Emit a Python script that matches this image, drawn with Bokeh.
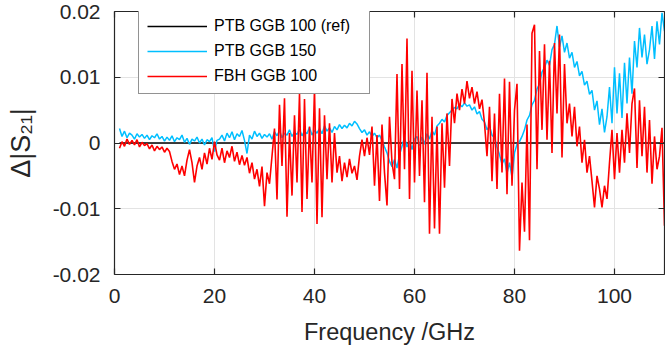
import numpy as np
from bokeh.plotting import figure
from bokeh.models import Range1d, LinearAxis, FixedTicker, Legend, LegendItem, ColumnDataSource
from bokeh.embed import file_html
from bokeh.resources import INLINE

# ---------------- data ----------------
# measurement frequency grid /GHz (0.5 GHz sampling)
freq_ghz = np.arange(1.0, 110.0 + 0.25, 0.5)

# Delta |S21| values, in units of 1e-3
ptb150_milli = [
    2.2, 1.0, 1.8, 0.8, 1.5, 1.2, 0.6, 1.4, 0.9, 1.3,      # 1 - 5.5
    0.7, 1.2, 0.5, 1.1, 0.8, 1.4, 0.6, 1.0, 0.3, 0.9,      # 6 - 10.5
    0.4, 1.1, 0.2, 0.8, 0.5, 1.2, 0.1, 0.7, -0.2, 0.6,     # 11 - 15.5
    0.3, 0.9, 0.0, 0.6, -0.3, 0.5, 0.2, 0.8, -1.3, 0.4,    # 16 - 20.5
    0.6, 1.2, 0.3, 1.5, 0.8, 1.7, 0.5, 1.4, 1.0, 1.9,      # 21 - 25.5
    0.4, -1.6, 1.2, 0.6, 1.8, 1.0, 1.5, 0.7, 1.3, 0.9,     # 26 - 30.5
    1.4, 0.6, 1.7, 1.1, 1.9, 0.8, 1.5, 1.2, 2.0, 1.0,      # 31 - 35.5
    1.6, 1.3, 2.1, 1.1, 1.8, 1.4, 2.4, 1.2, 1.9, 1.5,      # 36 - 40.5
    2.2, 1.4, 2.6, 1.8, 2.3, 1.6, 2.5, 2.0, 2.8, 2.2,      # 41 - 45.5
    2.7, 2.3, 3.0, 2.6, 3.3, 2.9, 2.2, 1.6, 2.0, 1.2,      # 46 - 50.5
    1.7, 1.0, 1.5, 0.8, 1.2, 0.4, -0.6, -1.5, -2.8, -3.6,  # 51 - 55.5
    -2.5, -3.8, -1.8, -0.5, 0.8, -0.6, 0.3, -1.0, 0.6, 1.0,  # 56 - 60.5
    -0.4, 0.9, -0.2, 1.4, 0.6, 1.9, 1.2, 2.6, 3.0, 3.6,    # 61 - 65.5
    3.2, 4.2, 4.6, 5.0, 5.4, 5.2, 5.9, 5.5, 6.1, 5.6,      # 66 - 70.5
    5.8, 5.0, 5.5, 4.4, 4.8, 3.6, 3.2, 2.0, 2.6, 1.2,      # 71 - 75.5
    0.8, -0.6, -1.8, -3.2, -2.4, -4.6, -3.0, -5.2, -1.5, -0.2,  # 76 - 80.5
    0.2, 1.0, 2.0, 3.5, 4.2, 5.8, 6.5, 8.2, 9.0, 10.8,     # 81 - 85.5
    11.5, 12.6, 11.8, 14.2, 15.0, 17.8, 14.6, 16.3, 13.8, 15.2,  # 86 - 90.5
    12.9, 13.8, 11.5, 12.4, 10.2, 10.9, 8.8, 9.4, 7.4, 8.0,  # 91 - 95.5
    5.0, 6.4, 2.8, 5.2, 1.6, 4.0, 8.5, 3.0, 11.5, 4.5,     # 96 - 100.5
    10.6, 3.8, 12.2, 6.0, 13.0, 7.5, 15.5, 11.5, 17.5, 13.0,  # 101 - 105.5
    16.5, 12.0, 14.2, 17.8, 12.8, 18.5, 15.0, 19.8, 17.0,  # 106 - 110
]

fbh100_milli = [
    -0.8, 0.2, -0.5, 0.6, -0.2, 0.4, -0.3, 0.5, -0.6, 0.1,     # 1 - 5.5
    -0.4, -0.1, -0.9, -0.3, -1.2, -0.5, -1.0, -0.6, -1.4, -0.8,  # 6 - 10.5
    -1.3, -2.8, -4.0, -3.2, -4.8, -3.5, -5.0, -2.6, -1.0, -3.0,  # 11 - 15.5
    -6.0, -3.5, -2.2, -4.0, -1.5, -3.2, -0.8, -2.5, 0.2, -1.8,   # 16 - 20.5
    -2.6, -0.8, -3.0, -1.2, -2.2, -0.5, -2.8, -1.4, -3.3, -1.9,  # 21 - 25.5
    -3.4, -2.2, -4.6, -3.0, -5.5, -4.0, -6.6, -3.6, -9.6, -4.5,  # 26 - 30.5
    -6.2, -2.0, 2.2, -8.6, 5.8, -3.5, 6.8, -11.2, 1.5, -8.0,     # 31 - 35.5
    4.2, -6.0, 7.5, -10.5, 6.7, -8.5, 2.5, -6.0, 8.3, -12.3,     # 36 - 40.5
    5.3, -11.3, 4.2, -5.5, 3.0, -6.0, 1.5, -4.5, -2.0, -5.8,     # 41 - 45.5
    -3.0, -5.2, -2.4, -4.6, -3.5, -5.6, -2.0, 0.5, -2.0, 0.8,    # 46 - 50.5
    -1.8, 2.5, -6.5, 1.2, -8.8, 2.8, -4.5, -9.5, 4.0, -3.0,      # 51 - 55.5
    -5.5, 10.5, -7.0, 12.0, -4.0, 15.9, -8.5, 11.0, -6.0, 8.0,   # 56 - 60.5
    -5.0, 6.5, -9.0, 10.7, -13.8, 4.0, -13.0, 2.5, -13.8, 3.0,   # 61 - 65.5
    -6.8, 4.5, -3.5, 6.7, 3.0, 7.5, 5.0, 8.2, 6.0, 9.4,          # 66 - 70.5
    6.8, 8.5, 6.0, 7.8, 5.2, 6.6, 3.0, -2.0, 5.5, -5.8,          # 71 - 75.5
    4.5, -7.0, 7.5, -4.5, 9.8, -7.8, 9.3, -6.5, 5.0, 9.0,        # 76 - 80.5
    -16.4, -6.0, -13.5, 2.8, -14.8, 16.7, 18.0, -4.0, 14.0, 2.0,  # 81 - 85.5
    15.0, 0.5, 12.5, -1.5, 15.2, 4.5, 16.5, -2.2, 12.0, 3.0,     # 86 - 90.5
    6.0, 1.0, 5.5, -0.5, 2.5, -3.0, 0.5, -4.5, -2.0, -5.8,       # 91 - 95.5
    -9.8, -5.0, -7.0, -9.8, -6.5, -8.5, -3.0, 2.0, -5.5, 1.5,    # 96 - 100.5
    -4.5, 2.0, -3.0, 4.5, -1.5, 6.0, 8.3, -3.8, 6.5, -2.0,       # 101 - 105.5
    5.5, -4.5, 3.5, -6.2, 1.0, -4.0, -2.0, 2.3, -12.6,           # 106 - 110
]

ref_milli = [0.0] * len(freq_ghz)

series_labels = ["PTB GGB 100 (ref)", "PTB GGB 150", "FBH GGB 100"]
series_colors = ["#000000", "#00BFFF", "#FF0000"]

x_ticks = [0, 20, 40, 60, 80, 100]
x_tick_labels = ["0", "20", "40", "60", "80", "100"]
y_ticks = [-0.02, -0.01, 0.0, 0.01, 0.02]
y_tick_labels = ["-0.02", "-0.01", "0", "0.01", "0.02"]

x_label = "Frequency /GHz"
y_label = "Δ|S₂₁|"

# ---------------- figure ----------------
FONT = "Liberation Sans"
AX = "#262626"

src = ColumnDataSource(dict(
    f=freq_ghz,
    ref=np.array(ref_milli) / 1000.0,
    ptb150=np.array(ptb150_milli) / 1000.0,
    fbh100=np.array(fbh100_milli) / 1000.0,
))

p = figure(width=665, height=349, output_backend="svg", toolbar_location=None,
           x_range=Range1d(0, 110), y_range=Range1d(-0.02, 0.02),
           min_border_left=114, min_border_right=1, min_border_top=11, min_border_bottom=75)
p.outline_line_color = None
p.background_fill_color = "white"
p.border_fill_color = "white"

r_ref = p.line("f", "ref", source=src, color=series_colors[0], line_width=1.4)
r_b = p.line("f", "ptb150", source=src, color=series_colors[1], line_width=1.5)
r_r = p.line("f", "fbh100", source=src, color=series_colors[2], line_width=1.6)

xt = FixedTicker(ticks=x_ticks, minor_ticks=[])
yt = FixedTicker(ticks=y_ticks, minor_ticks=[])

def style_axis(ax, show_labels):
    ax.axis_line_color = AX
    ax.axis_line_width = 1.2
    ax.major_tick_line_color = AX
    ax.major_tick_line_width = 1.2
    ax.major_tick_in = 6
    ax.major_tick_out = 0
    ax.minor_tick_line_color = None
    if show_labels:
        ax.major_label_text_font = FONT
        ax.major_label_text_font_size = "21px"
        ax.major_label_text_color = AX
    else:
        ax.major_label_text_font_size = "0px"
        ax.major_label_text_color = None
        ax.major_label_standoff = 0

xa = p.xaxis[0]
xa.ticker = xt
xa.major_label_overrides = {t: s for t, s in zip(x_ticks, x_tick_labels)}
style_axis(xa, True)
xa.major_label_standoff = 14
xa.axis_label = x_label
xa.axis_label_text_font = FONT
xa.axis_label_text_font_size = "23.5px"
xa.axis_label_text_font_style = "normal"
xa.axis_label_text_color = AX
xa.axis_label_text_line_height = 0.6
xa.axis_label_standoff = 13

ya = p.yaxis[0]
ya.ticker = yt
ya.major_label_overrides = {t: s for t, s in zip(y_ticks, y_tick_labels)}
style_axis(ya, True)
ya.major_label_standoff = 14
ya.axis_label = y_label
ya.axis_label_text_font = FONT
ya.axis_label_text_font_size = "27px"
ya.axis_label_text_font_style = "normal"
ya.axis_label_text_color = AX
ya.axis_label_standoff = 14

top = LinearAxis(ticker=xt)
style_axis(top, False)
p.add_layout(top, "above")
right = LinearAxis(ticker=yt)
style_axis(right, False)
p.add_layout(right, "right")

p.xgrid.ticker = xt
p.ygrid.ticker = yt
for g in (p.xgrid[0], p.ygrid[0]):
    g.grid_line_color = "#e3e3e3"
    g.grid_line_width = 1

legend = Legend(items=[LegendItem(label=series_labels[0], renderers=[r_ref]),
                       LegendItem(label=series_labels[1], renderers=[r_b]),
                       LegendItem(label=series_labels[2], renderers=[r_r])],
                location=(24, 180))
legend.label_text_font = FONT
legend.label_text_font_size = "16px"
legend.label_text_color = "#000000"
legend.glyph_width = 60
legend.glyph_height = 16
legend.label_height = 16
legend.label_width = 147
legend.label_standoff = 7
legend.spacing = 7
legend.padding = 8
legend.margin = 0
legend.border_line_color = AX
legend.border_line_width = 1
legend.background_fill_color = "white"
legend.background_fill_alpha = 1
p.add_layout(legend)

open("out.html", "w").write(file_html(p, INLINE))
